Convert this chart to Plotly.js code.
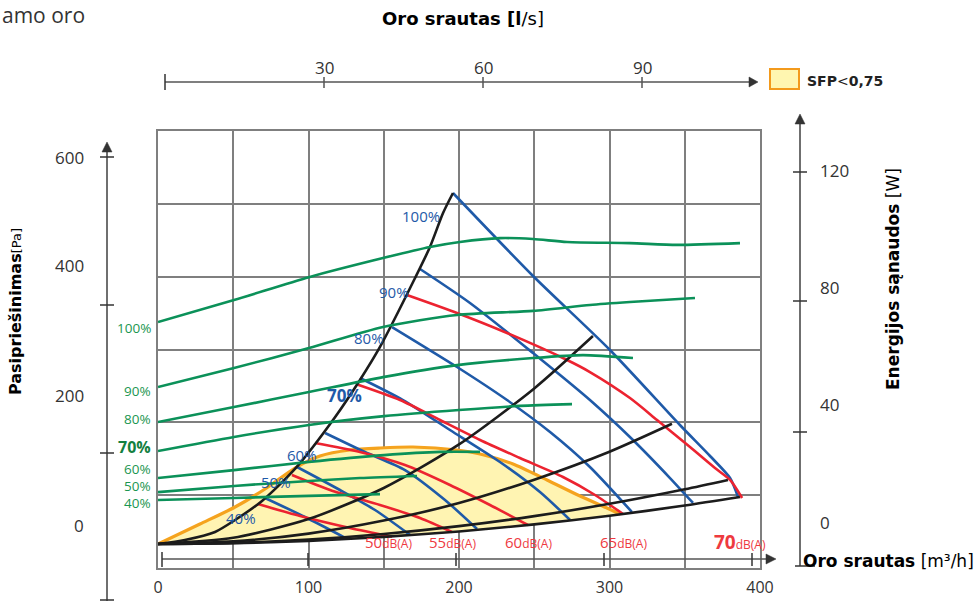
<!DOCTYPE html>
<html><head><meta charset="utf-8">
<script src="https://cdn.plot.ly/plotly-3.0.1.min.js"></script>
<style>html,body{margin:0;padding:0;background:#fff;}#chart{width:980px;height:601px;}</style>
</head><body><div id="chart"></div>
<script>
// ================= DATA (Q = air flow m3/h, P = pressure Pa, W = power W) =================
// System curves (black)
const sys1Q = [0, 17.9, 37.9, 51.2, 69.1, 91.0, 117.6, 134.2, 147.5, 170.8, 180.7, 189.4, 196.0];
const sys1P = [0, 6.2, 18.5, 36.9, 66.2, 115.4, 195.0, 252.3, 303.1, 409.2, 456.9, 509.2, 540.0];
const sys2Q = [0, 50, 100, 150, 200, 250, 289];
const sys2P = [0, 9.6, 38.3, 86.2, 153.2, 239.4, 320.0];
const sys3Q = [0, 50, 100, 150, 200, 250, 300, 341.5];
const sys3P = [0, 4, 16, 36, 63, 99, 142, 185];
const sys4Q = [0, 50, 100, 150, 200, 250, 300, 350, 378.7];
const sys4P = [0, 1.7, 6.9, 15.5, 27.5, 42.9, 61.8, 84.2, 98.5];
const sys5Q = [0, 50, 100, 150, 200, 250, 300, 350, 386.7];
const sys5P = [0, 1.2, 4.8, 10.9, 19.3, 30.2, 43.5, 59.2, 72.2];

// Fan speed curves (blue)
const fan100Q = [196.0, 249.2, 300.3, 346.8, 366.8, 380.1, 385.4];
const fan100P = [540.0, 412.3, 298.5, 183.1, 135.4, 101.5, 72.3];
const fan90Q = [174.1, 207.3, 249.2, 287.0, 315.6, 340.2, 355.5];
const fan90P = [423.1, 370.8, 293.8, 221.5, 160.0, 101.5, 63.1];
const fan80Q = [155.5, 198.7, 231.9, 260.5, 287.0, 314.9];
const fan80P = [333.8, 272.3, 221.5, 172.3, 118.5, 49.2];
const fan70Q = [134.2, 162.8, 194.0, 227.2, 253.8, 273.8];
const fan70P = [255.4, 221.5, 175.4, 126.2, 80.0, 37.0];
const fan60Q = [111.0, 137.5, 164.1, 190.7, 212.0];
const fan60P = [170.8, 141.5, 113.8, 67.7, 23.0];
const fan50Q = [92.4, 120.9, 144.2, 167.4];
const fan50P = [118.5, 83.1, 52.3, 14.0];
const fan40Q = [71.1, 97.7, 125.6];
const fan40P = [70.8, 41.5, 8.0];

// Sound level curves (red)
const db70Q = [165.4, 198.7, 231.9, 271.8, 287.0, 313.6, 331.6, 353.5, 370.1, 380.1, 388.1];
const db70P = [383.1, 355.4, 324.6, 283.1, 264.6, 224.6, 190.8, 149.2, 116.9, 98.5, 70.8];
const db65Q = [132.9, 160.8, 187.4, 214.0, 240.5, 269.1, 290.4, 309.0];
const db65P = [245.0, 221.5, 190.8, 160.0, 132.3, 103.1, 75.4, 46.2];
const db60Q = [104.3, 134.2, 164.1, 194.0, 220.6, 245.8];
const db60P = [155.4, 141.5, 121.5, 90.8, 60.0, 29.2];
const db55Q = [89.0, 114.3, 147.5, 174.1, 195.3];
const db55P = [106.2, 83.1, 60.0, 40.0, 18.5];
const db50Q = [66.4, 94.4, 127.6, 155.5];
const db50P = [61.5, 43.1, 24.6, 11.0];

// Power consumption curves (green, right axis W)
const pw100Q = [0, 50.5, 100.3, 149.5, 180.7, 200.6, 227.2, 249.2, 271.8, 313.6, 344.8, 386.7];
const pw100W = [68.2, 75.7, 83.5, 90.0, 93.8, 95.5, 96.8, 96.5, 95.5, 95.1, 94.5, 95.1];
const pw90Q = [0, 50.5, 100.3, 149.5, 198.7, 249.2, 287.0, 313.6, 356.8];
const pw90W = [46.0, 52.5, 59.3, 66.5, 70.6, 72.0, 74.0, 75.0, 76.4];
const pw80Q = [0, 50.5, 100.3, 149.5, 198.7, 249.2, 282.4, 315.6];
const pw80W = [34.1, 39.2, 44.3, 49.4, 53.5, 55.9, 56.9, 55.9];
const pw70Q = [0, 50.5, 100.3, 150.2, 200.0, 240.5, 275.1];
const pw70W = [24.2, 29.0, 33.1, 36.1, 38.2, 39.6, 40.2];
const pw60Q = [0, 50.5, 100.3, 150.2, 187.4, 214.0];
const pw60W = [15.0, 17.7, 20.5, 22.8, 23.9, 23.9];
const pw50Q = [0, 50.5, 100.3, 134.2, 172.1];
const pw50W = [10.2, 12.3, 14.0, 15.0, 15.7];
const pw40Q = [0, 50.5, 100.3, 147.5];
const pw40W = [7.5, 8.2, 8.9, 9.5];

// SFP < 0,75 region upper boundary
const sfpQ = [0, 27.9, 51.2, 71.1, 91.0, 107.6, 127.6, 147.5, 169.4, 198.7, 214.0, 235.9, 258.5, 280.4, 298.3, 307.0];
const sfpP = [0, 30.8, 56.9, 84.6, 116.9, 135.4, 144.6, 147.7, 149.2, 144.6, 138.5, 123.1, 98.5, 73.8, 55.4, 46.2];

// Labels
const xTickVals = [0, 50, 100, 150, 200, 250, 300, 350, 400];
const xTickText = ['0', '', '100', '', '200', '', '300', '', '400'];
const leftTickLabels = ['600', '400', '200', '0'];
const rightTickValues = [120, 80, 40, 0];
const topTickValues = [30, 60, 90];
const bottomTickValues = [100, 200, 300, 400];
const fanLabels = ['100%', '90%', '80%', '70%', '60%', '50%', '40%'];
const powerLabels = ['100%', '90%', '80%', '70%', '60%', '50%', '40%'];
const dbLabels = ['50', '55', '60', '65', '70'];

// ================= STYLE / LAYOUT =================
const L = 158, T = 131, PW = 602, PH = 437;
const X = px => (px - L) / PW;
const Y = py => (T + PH - py) / PH;

const BLACK = '#1c1c1c', BLUE = '#1f5aa8', RED = '#ec2330', GREEN = '#0b9159', ORANGE = '#f5a31e', YELLOW = '#fff4b2';
const GRID = '#7f7f7f', AX = '#6f6f6f', TXT = '#333333';
const NUMF = 'Open Sans, Noto Sans, sans-serif';
const BOLDF = 'DejaVu Sans, Verdana, sans-serif';

function ln(x, y, color, yaxis, w) {
  return {x: x, y: y, type: 'scatter', mode: 'lines', yaxis: yaxis || 'y', hoverinfo: 'skip',
    line: {color: color, width: w || 2.6, shape: 'spline', smoothing: 0.7}};
}

const traces = [];
// SFP fill: upper boundary then back along lowest system curve
const polyQ = sfpQ.slice(), polyP = sfpP.slice();
for (let i = sys5Q.length - 1; i >= 0; i--) { if (sys5Q[i] < sfpQ[sfpQ.length - 1]) { polyQ.push(sys5Q[i]); polyP.push(sys5P[i]); } }
traces.push({x: polyQ, y: polyP, type: 'scatter', mode: 'lines', fill: 'toself', fillcolor: YELLOW,
  line: {width: 0, color: YELLOW}, hoverinfo: 'skip'});
traces.push(ln(sfpQ, sfpP, ORANGE, 'y', 3.2));

[[fan100Q, fan100P], [fan90Q, fan90P], [fan80Q, fan80P], [fan70Q, fan70P], [fan60Q, fan60P], [fan50Q, fan50P], [fan40Q, fan40P]]
  .forEach(s => traces.push(ln(s[0], s[1], BLUE)));
[[db70Q, db70P], [db65Q, db65P], [db60Q, db60P], [db55Q, db55P], [db50Q, db50P]]
  .forEach(s => traces.push(ln(s[0], s[1], RED)));
[[sys1Q, sys1P], [sys2Q, sys2P], [sys3Q, sys3P], [sys4Q, sys4P], [sys5Q, sys5P]]
  .forEach(s => traces.push(ln(s[0], s[1], BLACK)));
[[pw100Q, pw100W], [pw90Q, pw90W], [pw80Q, pw80W], [pw70Q, pw70W], [pw60Q, pw60W], [pw50Q, pw50W], [pw40Q, pw40W]]
  .forEach(s => traces.push(ln(s[0], s[1], GREEN, 'y2')));

// ---- decorations ----
const shapes = [];
const ann = [];
function seg(x0, y0, x1, y1, color, w) {
  shapes.push({type: 'line', xref: 'paper', yref: 'paper', x0: X(x0), y0: Y(y0), x1: X(x1), y1: Y(y1),
    line: {color: color, width: w}});
}
function tri(pts, color) {
  const d = 'M' + pts.map(p => X(p[0]) + ',' + Y(p[1])).join(' L') + ' Z';
  shapes.push({type: 'path', xref: 'paper', yref: 'paper', path: d, fillcolor: color, line: {color: color, width: 0.5}});
}
function txt(text, px, py, opt) {
  ann.push(Object.assign({text: text, xref: 'paper', yref: 'paper', x: X(px), y: Y(py), showarrow: false,
    xanchor: 'center', yanchor: 'middle', font: {family: NUMF, size: 17, color: TXT}}, opt || {}));
}

// top l/s axis
seg(165, 82, 752, 82, '#555', 1.5);
seg(165, 74, 165, 90, '#333', 1.5);
tri([[749, 77], [758, 82], [749, 87]], '#333');
topTickValues.forEach(v => { const px = 165 + v * 5.3; seg(px, 77, px, 88, '#555', 1.5); txt(String(v), px, 68); });

// bottom m3/h arrow axis
seg(162, 559, 768, 559, '#555', 1.5);
seg(162, 552, 162, 567, '#333', 1.5);
tri([[766, 554], [776, 559], [766, 564]], '#333');
bottomTickValues.forEach(v => { const px = 160 + v * 1.48; seg(px, 553, px, 566, '#333', 1.5); });

// left pressure axis
seg(107, 148, 107, 601, AX, 2);
tri([[102, 152], [107, 142], [112, 152]], '#333');
[157, 305, 453, 600].forEach(py => seg(100, py, 114, py, '#333', 1.5));
const leftLabelPy = [157, 265, 395, 525];
leftTickLabels.forEach((t, i) => txt(t, 86, leftLabelPy[i], {xanchor: 'right'}));

// right power axis
seg(800, 120, 800, 566, AX, 2);
tri([[795, 124], [800, 114], [805, 124]], '#333');
[172, 301, 432].forEach(py => seg(793, py, 807, py, '#333', 1.5));
seg(795, 566, 815, 566, '#333', 1.5);
rightTickValues.forEach(v => ann.push({text: String(v), xref: 'paper', yref: 'y2', x: X(818), y: v, showarrow: false,
  xanchor: 'left', yanchor: 'middle', font: {family: NUMF, size: 17, color: TXT}}));

// titles
txt('<b>Oro srautas [l</b>/s]', 463, 19, {font: {family: BOLDF, size: 18, color: '#000'}});
txt('<b>Oro srautas</b> [m³/h]', 801, 561, {xanchor: 'left', font: {family: BOLDF, size: 17, color: '#000'}});
txt('<b>Energijos sąnaudos</b> [W]', 893, 279, {textangle: -90, font: {family: BOLDF, size: 17, color: '#000'}});
txt('<b>Pasipriešinimas</b><span style="font-size:13px">[Pa]</span>', 15, 312, {textangle: -90, font: {family: BOLDF, size: 16, color: '#000'}});
txt('amo oro', 0, 15, {xanchor: 'left', font: {family: NUMF, size: 21, color: TXT}});

// legend
shapes.push({type: 'rect', xref: 'paper', yref: 'paper', x0: X(770), x1: X(799), y0: Y(89), y1: Y(69),
  fillcolor: '#fff6b0', line: {color: '#f39a1c', width: 2}});
txt('<b>SFP</b>&lt;<b>0,75</b>', 805, 81, {xanchor: 'left', font: {family: BOLDF, size: 14, color: '#222'}});

// curve labels
const fanLabelPos = [[421, 216], [394, 292], [369, 338], [344, 395], [302, 455], [276, 482], [241, 518]];
fanLabels.forEach((t, i) => txt(i === 3 ? '<b>' + t + '</b>' : t, fanLabelPos[i][0], fanLabelPos[i][1],
  {font: {family: NUMF, size: i === 3 ? 17 : 15, color: BLUE}}));
const powerLabelPy = [328, 391, 419, 447, 469, 485.5, 503];
powerLabels.forEach((t, i) => txt(i === 3 ? '<b>' + t + '</b>' : t, 152, powerLabelPy[i],
  {xanchor: 'right', borderpad: 0, font: {family: NUMF, size: i === 3 ? 16 : 13.5, color: i === 3 ? '#13803f' : '#1a9650'}}));
const dbLabelPx = [388, 452, 528, 623, 740];
dbLabels.forEach((t, i) => txt((i === 4 ? '<b><span style="font-size:19px">' + t + '</span></b>' : '<span style="font-size:15px">' + t + '</span>') + 'dB(A)',
  dbLabelPx[i], 542, {font: {family: NUMF, size: 12, color: '#ee3a3f'}}));

const layout = {
  width: 980, height: 601, showlegend: false,
  paper_bgcolor: '#fff', plot_bgcolor: '#fff',
  margin: {l: L, r: 980 - L - PW, t: T, b: 601 - T - PH, pad: 0},
  xaxis: {range: [0, 400], tickmode: 'array', tickvals: xTickVals, ticktext: xTickText, showgrid: true,
    gridcolor: GRID, gridwidth: 2, showline: true, mirror: true, linecolor: GRID, linewidth: 2,
    zeroline: false, ticks: '', ticklabelstandoff: 4, tickfont: {family: NUMF, size: 16, color: TXT}, fixedrange: true},
  yaxis: {range: [-36.92, 635.38], tick0: -36.92, dtick: 112.05, showgrid: true, gridcolor: GRID, gridwidth: 2,
    showline: true, mirror: true, linecolor: GRID, linewidth: 2, zeroline: false, showticklabels: false,
    ticks: '', fixedrange: true},
  yaxis2: {range: [-15.686, 133.333], overlaying: 'y', side: 'right', visible: false, fixedrange: true},
  shapes: shapes, annotations: ann
};

Plotly.newPlot('chart', traces, layout, {staticPlot: true, displayModeBar: false});
</script></body></html>
